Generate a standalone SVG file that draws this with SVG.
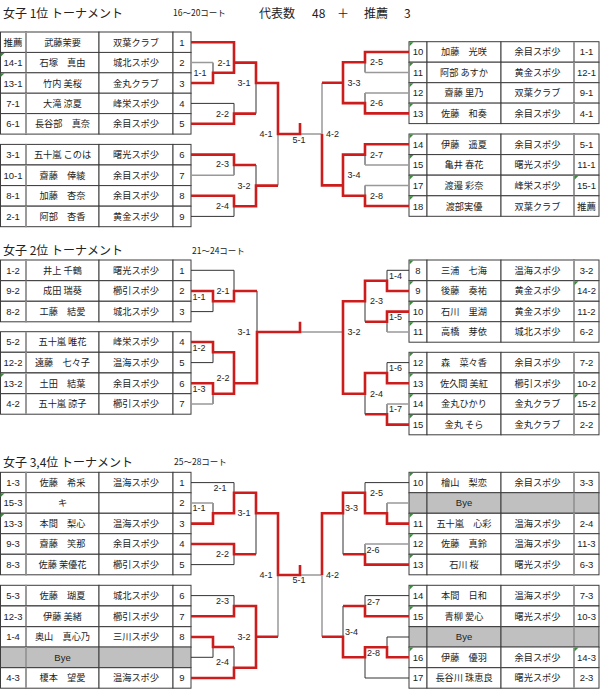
<svg xmlns="http://www.w3.org/2000/svg" xmlns:xlink="http://www.w3.org/1999/xlink" width="600" height="700" viewBox="0 0 600 700">
<style>
.cell{fill:#fff;stroke:#3c3c3c;stroke-width:1}
.bye{fill:#c0c0c0;stroke:#3c3c3c;stroke-width:1}
.sep{stroke:#9a9a9a;stroke-width:2}
text{font-family:"Noto Sans CJK JP","Noto Sans",sans-serif;fill:#222}
.t{font-size:9.2px;text-anchor:middle}
.s{font-family:"Liberation Sans","Noto Sans CJK JP",sans-serif;font-size:9.5px;text-anchor:middle}
.lb{font-family:"Liberation Sans",sans-serif;font-size:9px;text-anchor:middle;dominant-baseline:central}
.ttl{font-size:12px}
.ct{font-size:8.5px}
.r{fill:none;stroke:#cc1c1c;stroke-width:2.6;stroke-linejoin:miter}
.k{fill:none;stroke:#333;stroke-width:1}
.g{fill:none;stroke:#999;stroke-width:1.5}
.tri{fill:#3a8a3a}
</style>
<defs>
<g id="rL"><rect class="cell" x="0.5" y="0" width="25.5" height="20.5"/><rect class="cell" x="26" y="0" width="73" height="20.5"/><rect class="cell" x="99" y="0" width="74" height="20.5"/><rect class="cell" x="173" y="0" width="18" height="20.5"/><line class="sep" x1="26" y1="0" x2="26" y2="20.5"/></g>
<g id="rLb"><rect class="bye" x="0.5" y="0" width="25.5" height="20.5"/><rect class="bye" x="26" y="0" width="73" height="20.5"/><rect class="bye" x="99" y="0" width="74" height="20.5"/><rect class="bye" x="173" y="0" width="18" height="20.5"/><line class="sep" x1="26" y1="0" x2="26" y2="20.5"/></g>
<g id="rR"><rect class="cell" x="409" y="0" width="18" height="20.5"/><rect class="cell" x="427" y="0" width="74" height="20.5"/><rect class="cell" x="501" y="0" width="73" height="20.5"/><rect class="cell" x="574" y="0" width="25" height="20.5"/><line class="sep" x1="574" y1="0" x2="574" y2="20.5"/></g>
<g id="rRb"><rect class="bye" x="409" y="0" width="18" height="20.5"/><rect class="bye" x="427" y="0" width="74" height="20.5"/><rect class="bye" x="501" y="0" width="73" height="20.5"/><rect class="bye" x="574" y="0" width="25" height="20.5"/><line class="sep" x1="574" y1="0" x2="574" y2="20.5"/></g>
<path id="tri" class="tri" d="M0.5,0.5h4l-4,4z"/>
</defs>
<rect width="600" height="700" fill="#fff"/>

<g id="titles">
<text class="ttl" x="3" y="17.5">女子 1位 トーナメント</text>
<text class="ct" x="173" y="15.7">16～20コート</text>
<text class="ttl" y="17.5"><tspan x="259">代表数</tspan><tspan x="312">48</tspan><tspan x="337">＋</tspan><tspan x="364">推薦</tspan><tspan x="404">3</tspan></text>
<text class="ttl" x="3" y="255">女子 2位 トーナメント</text>
<text class="ct" x="192" y="253.5">21～24コート</text>
<text class="ttl" x="3" y="466.5">女子 3,4位 トーナメント</text>
<text class="ct" x="174" y="465">25～28コート</text>
</g>

<!-- Section 1 left -->
<g id="s1-l1" transform="translate(0,32)"><use href="#rL"/><text class="s" x="13" y="13.8">推薦</text><text class="t" x="62.5" y="13.8">武藤茉要</text><text class="t" x="136" y="13.8">双葉クラブ</text><text class="s" x="182" y="13.8">1</text></g>
<g id="s1-l2" transform="translate(0,52.4)"><use href="#rL"/><text class="s" x="13" y="13.8">14-1</text><text class="t" x="62.5" y="13.8">石塚　真由</text><text class="t" x="136" y="13.8">城北スポ少</text><text class="s" x="182" y="13.8">2</text></g>
<g id="s1-l3" transform="translate(0,72.8)"><use href="#rL"/><text class="s" x="13" y="13.8">13-1</text><text class="t" x="62.5" y="13.8">竹内 美桜</text><text class="t" x="136" y="13.8">金丸クラブ</text><text class="s" x="182" y="13.8">3</text></g>
<g id="s1-l4" transform="translate(0,93.2)"><use href="#rL"/><text class="s" x="13" y="13.8">7-1</text><text class="t" x="62.5" y="13.8">大滝 涼夏</text><text class="t" x="136" y="13.8">峰栄スポ少</text><text class="s" x="182" y="13.8">4</text></g>
<g id="s1-l5" transform="translate(0,113.6)"><use href="#rL"/><text class="s" x="13" y="13.8">6-1</text><text class="t" x="62.5" y="13.8">長谷部　真奈</text><text class="t" x="136" y="13.8">余目スポ少</text><text class="s" x="182" y="13.8">5</text></g>
<g id="s1-l6" transform="translate(0,144.4)"><use href="#rL"/><text class="s" x="13" y="13.8">3-1</text><text class="t" x="62.5" y="13.8">五十嵐 このは</text><text class="t" x="136" y="13.8">曙光スポ少</text><text class="s" x="182" y="13.8">6</text></g>
<g id="s1-l7" transform="translate(0,165)"><use href="#rL"/><text class="s" x="13" y="13.8">10-1</text><text class="t" x="62.5" y="13.8">齋藤　倖綾</text><text class="t" x="136" y="13.8">余目スポ少</text><text class="s" x="182" y="13.8">7</text></g>
<g id="s1-l8" transform="translate(0,185.6)"><use href="#rL"/><text class="s" x="13" y="13.8">8-1</text><text class="t" x="62.5" y="13.8">加藤　杏奈</text><text class="t" x="136" y="13.8">余目スポ少</text><text class="s" x="182" y="13.8">8</text></g>
<g id="s1-l9" transform="translate(0,206.2)"><use href="#rL"/><text class="s" x="13" y="13.8">2-1</text><text class="t" x="62.5" y="13.8">阿部　杏香</text><text class="t" x="136" y="13.8">黄金スポ少</text><text class="s" x="182" y="13.8">9</text></g>

<!-- Section 1 right -->
<g id="s1-r10" transform="translate(0,41.7)"><use href="#rR"/><text class="s" x="418" y="13.8">10</text><text class="t" x="464" y="13.8">加藤　光咲</text><text class="t" x="537.5" y="13.8">余目スポ少</text><text class="s" x="586.5" y="13.8">1-1</text></g>
<g id="s1-r11" transform="translate(0,62.2)"><use href="#rR"/><text class="s" x="418" y="13.8">11</text><text class="t" x="464" y="13.8">阿部 あすか</text><text class="t" x="537.5" y="13.8">黄金スポ少</text><text class="s" x="586.5" y="13.8">12-1</text></g>
<g id="s1-r12" transform="translate(0,82.7)"><use href="#rR"/><text class="s" x="418" y="13.8">12</text><text class="t" x="464" y="13.8">齋藤 里乃</text><text class="t" x="537.5" y="13.8">双葉クラブ</text><text class="s" x="586.5" y="13.8">9-1</text></g>
<g id="s1-r13" transform="translate(0,103.1)"><use href="#rR"/><text class="s" x="418" y="13.8">13</text><text class="t" x="464" y="13.8">佐藤　和奏</text><text class="t" x="537.5" y="13.8">余目スポ少</text><text class="s" x="586.5" y="13.8">4-1</text></g>
<g id="s1-r14" transform="translate(0,134)"><use href="#rR"/><text class="s" x="418" y="13.8">14</text><text class="t" x="464" y="13.8">伊藤　遥夏</text><text class="t" x="537.5" y="13.8">余目スポ少</text><text class="s" x="586.5" y="13.8">5-1</text></g>
<g id="s1-r15" transform="translate(0,154.6)"><use href="#rR"/><text class="s" x="418" y="13.8">15</text><text class="t" x="464" y="13.8">亀井 春花</text><text class="t" x="537.5" y="13.8">曙光スポ少</text><text class="s" x="586.5" y="13.8">11-1</text></g>
<g id="s1-r17" transform="translate(0,175.2)"><use href="#rR"/><text class="s" x="418" y="13.8">17</text><text class="t" x="464" y="13.8">渡邉 彩奈</text><text class="t" x="537.5" y="13.8">峰栄スポ少</text><text class="s" x="586.5" y="13.8">15-1</text></g>
<g id="s1-r18" transform="translate(0,195.8)"><use href="#rR"/><text class="s" x="418" y="13.8">18</text><text class="t" x="464" y="13.8">渡部実優</text><text class="t" x="537.5" y="13.8">双葉クラブ</text><text class="s" x="586.5" y="13.8">推薦</text></g>

<!-- Section 2 left -->
<g id="s2-l1" transform="translate(0,260)"><use href="#rL"/><text class="s" x="13" y="13.8">1-2</text><text class="t" x="62.5" y="13.8">井上 千鶴</text><text class="t" x="136" y="13.8">曙光スポ少</text><text class="s" x="182" y="13.8">1</text></g>
<g id="s2-l2" transform="translate(0,280.7)"><use href="#rL"/><text class="s" x="13" y="13.8">9-2</text><text class="t" x="62.5" y="13.8">成田 瑞葵</text><text class="t" x="136" y="13.8">櫛引スポ少</text><text class="s" x="182" y="13.8">2</text></g>
<g id="s2-l3" transform="translate(0,301.3)"><use href="#rL"/><text class="s" x="13" y="13.8">8-2</text><text class="t" x="62.5" y="13.8">工藤　結愛</text><text class="t" x="136" y="13.8">城北スポ少</text><text class="s" x="182" y="13.8">3</text></g>
<g id="s2-l4" transform="translate(0,331.7)"><use href="#rL"/><text class="s" x="13" y="13.8">5-2</text><text class="t" x="62.5" y="13.8">五十嵐 唯花</text><text class="t" x="136" y="13.8">峰栄スポ少</text><text class="s" x="182" y="13.8">4</text></g>
<g id="s2-l5" transform="translate(0,352.3)"><use href="#rL"/><text class="s" x="13" y="13.8">12-2</text><text class="t" x="62.5" y="13.8">遠藤　七々子</text><text class="t" x="136" y="13.8">温海スポ少</text><text class="s" x="182" y="13.8">5</text></g>
<g id="s2-l6" transform="translate(0,373)"><use href="#rL"/><text class="s" x="13" y="13.8">13-2</text><text class="t" x="62.5" y="13.8">土田　結葉</text><text class="t" x="136" y="13.8">余目スポ少</text><text class="s" x="182" y="13.8">6</text></g>
<g id="s2-l7" transform="translate(0,393.7)"><use href="#rL"/><text class="s" x="13" y="13.8">4-2</text><text class="t" x="62.5" y="13.8">五十嵐 諒子</text><text class="t" x="136" y="13.8">櫛引スポ少</text><text class="s" x="182" y="13.8">7</text></g>

<!-- Section 2 right -->
<g id="s2-r8" transform="translate(0,260)"><use href="#rR"/><text class="s" x="418" y="13.8">8</text><text class="t" x="464" y="13.8">三浦　七海</text><text class="t" x="537.5" y="13.8">温海スポ少</text><text class="s" x="586.5" y="13.8">3-2</text></g>
<g id="s2-r9" transform="translate(0,280.7)"><use href="#rR"/><text class="s" x="418" y="13.8">9</text><text class="t" x="464" y="13.8">後藤　奏祐</text><text class="t" x="537.5" y="13.8">黄金スポ少</text><text class="s" x="586.5" y="13.8">14-2</text></g>
<g id="s2-r10" transform="translate(0,301.3)"><use href="#rR"/><text class="s" x="418" y="13.8">10</text><text class="t" x="464" y="13.8">石川　里湖</text><text class="t" x="537.5" y="13.8">黄金スポ少</text><text class="s" x="586.5" y="13.8">11-2</text></g>
<g id="s2-r11" transform="translate(0,321.7)"><use href="#rR"/><text class="s" x="418" y="13.8">11</text><text class="t" x="464" y="13.8">高橋　芽依</text><text class="t" x="537.5" y="13.8">城北スポ少</text><text class="s" x="586.5" y="13.8">6-2</text></g>
<g id="s2-r12" transform="translate(0,352.3)"><use href="#rR"/><text class="s" x="418" y="13.8">12</text><text class="t" x="464" y="13.8">森　菜々香</text><text class="t" x="537.5" y="13.8">余目スポ少</text><text class="s" x="586.5" y="13.8">7-2</text></g>
<g id="s2-r13" transform="translate(0,373)"><use href="#rR"/><text class="s" x="418" y="13.8">13</text><text class="t" x="464" y="13.8">佐久間 美紅</text><text class="t" x="537.5" y="13.8">櫛引スポ少</text><text class="s" x="586.5" y="13.8">10-2</text></g>
<g id="s2-r14" transform="translate(0,393.7)"><use href="#rR"/><text class="s" x="418" y="13.8">14</text><text class="t" x="464" y="13.8">金丸ひかり</text><text class="t" x="537.5" y="13.8">金丸クラブ</text><text class="s" x="586.5" y="13.8">15-2</text></g>
<g id="s2-r15" transform="translate(0,414.3)"><use href="#rR"/><text class="s" x="418" y="13.8">15</text><text class="t" x="464" y="13.8">金丸 そら</text><text class="t" x="537.5" y="13.8">金丸クラブ</text><text class="s" x="586.5" y="13.8">2-2</text></g>

<!-- Section 3 left -->
<g id="s3-l1" transform="translate(0,472.3)"><use href="#rL"/><text class="s" x="13" y="13.8">1-3</text><text class="t" x="62.5" y="13.8">佐藤　希采</text><text class="t" x="136" y="13.8">温海スポ少</text><text class="s" x="182" y="13.8">1</text></g>
<g id="s3-l2" transform="translate(0,492.7)"><use href="#rL"/><text class="s" x="13" y="13.8">15-3</text><text class="t" x="62.5" y="13.8">キ</text><text class="s" x="182" y="13.8">2</text></g>
<g id="s3-l3" transform="translate(0,513.3)"><use href="#rL"/><text class="s" x="13" y="13.8">13-3</text><text class="t" x="62.5" y="13.8">本間　梨心</text><text class="t" x="136" y="13.8">温海スポ少</text><text class="s" x="182" y="13.8">3</text></g>
<g id="s3-l4" transform="translate(0,533.7)"><use href="#rL"/><text class="s" x="13" y="13.8">9-3</text><text class="t" x="62.5" y="13.8">齋藤　笑那</text><text class="t" x="136" y="13.8">余目スポ少</text><text class="s" x="182" y="13.8">4</text></g>
<g id="s3-l5" transform="translate(0,554.3)"><use href="#rL"/><text class="s" x="13" y="13.8">8-3</text><text class="t" x="62.5" y="13.8">佐藤 茉優花</text><text class="t" x="136" y="13.8">櫛引スポ少</text><text class="s" x="182" y="13.8">5</text></g>
<g id="s3-l6" transform="translate(0,585.3)"><use href="#rL"/><text class="s" x="13" y="13.8">5-3</text><text class="t" x="62.5" y="13.8">佐藤　瑚夏</text><text class="t" x="136" y="13.8">城北スポ少</text><text class="s" x="182" y="13.8">6</text></g>
<g id="s3-l7" transform="translate(0,606)"><use href="#rL"/><text class="s" x="13" y="13.8">12-3</text><text class="t" x="62.5" y="13.8">伊藤 美緒</text><text class="t" x="136" y="13.8">櫛引スポ少</text><text class="s" x="182" y="13.8">7</text></g>
<g id="s3-l8" transform="translate(0,626.7)"><use href="#rL"/><text class="s" x="13" y="13.8">1-4</text><text class="t" x="62.5" y="13.8">奥山　真心乃</text><text class="t" x="136" y="13.8">三川スポ少</text><text class="s" x="182" y="13.8">8</text></g>
<g id="s3-lbye" transform="translate(0,647)"><use href="#rLb"/><text class="s" x="62.5" y="13.8">Bye</text></g>
<g id="s3-l9" transform="translate(0,667.7)"><use href="#rL"/><text class="s" x="13" y="13.8">4-3</text><text class="t" x="62.5" y="13.8">榎本　望愛</text><text class="t" x="136" y="13.8">温海スポ少</text><text class="s" x="182" y="13.8">9</text></g>

<!-- Section 3 right -->
<g id="s3-r10" transform="translate(0,472.3)"><use href="#rR"/><text class="s" x="418" y="13.8">10</text><text class="t" x="464" y="13.8">檜山　梨恋</text><text class="t" x="537.5" y="13.8">余目スポ少</text><text class="s" x="586.5" y="13.8">3-3</text></g>
<g id="s3-rbye1" transform="translate(0,492.7)"><use href="#rRb"/><text class="s" x="464" y="13.8">Bye</text></g>
<g id="s3-r11" transform="translate(0,513.3)"><use href="#rR"/><text class="s" x="418" y="13.8">11</text><text class="t" x="464" y="13.8">五十嵐　心彩</text><text class="t" x="537.5" y="13.8">温海スポ少</text><text class="s" x="586.5" y="13.8">2-4</text></g>
<g id="s3-r12" transform="translate(0,533.7)"><use href="#rR"/><text class="s" x="418" y="13.8">12</text><text class="t" x="464" y="13.8">佐藤　真鈴</text><text class="t" x="537.5" y="13.8">温海スポ少</text><text class="s" x="586.5" y="13.8">11-3</text></g>
<g id="s3-r13" transform="translate(0,554.3)"><use href="#rR"/><text class="s" x="418" y="13.8">13</text><text class="t" x="464" y="13.8">石川 桜</text><text class="t" x="537.5" y="13.8">曙光スポ少</text><text class="s" x="586.5" y="13.8">6-3</text></g>
<g id="s3-r14" transform="translate(0,585.3)"><use href="#rR"/><text class="s" x="418" y="13.8">14</text><text class="t" x="464" y="13.8">本間　日和</text><text class="t" x="537.5" y="13.8">温海スポ少</text><text class="s" x="586.5" y="13.8">7-3</text></g>
<g id="s3-r15" transform="translate(0,606)"><use href="#rR"/><text class="s" x="418" y="13.8">15</text><text class="t" x="464" y="13.8">青柳 愛心</text><text class="t" x="537.5" y="13.8">曙光スポ少</text><text class="s" x="586.5" y="13.8">10-3</text></g>
<g id="s3-rbye2" transform="translate(0,626.7)"><use href="#rRb"/><text class="s" x="464" y="13.8">Bye</text></g>
<g id="s3-r16" transform="translate(0,647)"><use href="#rR"/><text class="s" x="418" y="13.8">16</text><text class="t" x="464" y="13.8">伊藤　優羽</text><text class="t" x="537.5" y="13.8">余目スポ少</text><text class="s" x="586.5" y="13.8">14-3</text></g>
<g id="s3-r17" transform="translate(0,667.7)"><use href="#rR"/><text class="s" x="418" y="13.8">17</text><text class="t" x="464" y="13.8">長谷川 珠恵良</text><text class="t" x="537.5" y="13.8">曙光スポ少</text><text class="s" x="586.5" y="13.8">2-3</text></g>

<g id="comment-marks">
<use href="#tri" x="0" y="52.4"/><use href="#tri" x="0" y="72.8"/>
<use href="#tri" x="409" y="41.7"/><use href="#tri" x="409" y="62.2"/><use href="#tri" x="409" y="82.7"/><use href="#tri" x="409" y="103.1"/><use href="#tri" x="409" y="134"/><use href="#tri" x="409" y="154.6"/><use href="#tri" x="409" y="175.2"/><use href="#tri" x="409" y="195.8"/><use href="#tri" x="574" y="175.2"/>
<use href="#tri" x="0" y="373"/>
<use href="#tri" x="409" y="260"/><use href="#tri" x="409" y="280.7"/><use href="#tri" x="409" y="301.3"/><use href="#tri" x="409" y="321.7"/><use href="#tri" x="409" y="352.3"/><use href="#tri" x="409" y="373"/><use href="#tri" x="409" y="393.7"/><use href="#tri" x="409" y="414.3"/><use href="#tri" x="574" y="280.7"/><use href="#tri" x="574" y="393.7"/>
<use href="#tri" x="0" y="492.7"/><use href="#tri" x="0" y="513.3"/>
<use href="#tri" x="409" y="472.3"/><use href="#tri" x="409" y="513.3"/><use href="#tri" x="409" y="533.7"/><use href="#tri" x="409" y="554.3"/><use href="#tri" x="409" y="585.3"/><use href="#tri" x="409" y="606"/><use href="#tri" x="409" y="647"/><use href="#tri" x="574" y="647"/>
</g>

<g id="connectors">
<!-- section 1 -->
<path class="k" d="M213,62.6V72.8M234,103.4V113.6M256,83V113.6M191,103.4H234M234,165V175.2M256,165V185.6M234,206.2V216.4M191,216.4H234"/>
<path class="g" d="M191,62.6H213M191,175.2H234M278,134V185.6M300,134H322"/>
<path class="k" d="M365,62.2V72.5M365,93V103.1M365,154.6V164.9M365,185.4V195.8"/>
<path class="g" d="M365,72.5H409M365,93H409M365,164.9H409M365,185.4H409M322,82.7V134"/>
<path class="r" d="M191,42.2H234V72.8H213V83H191M234,62.6H256V83H278V134H300V123M191,123.8H234V113.6H256M191,154.6H234V165H256M191,195.8H234V206.2H256V185.6H278"/>
<path class="r" d="M409,52H365V62.2H343V103.1H365V113.4H409M343,82.7H322M322,134V185.4H343V154.6H365V144.3H409M343,185.4V195.8H365V206H409"/>
<!-- section 2 -->
<path class="k" d="M191,270.3H234V291M213,301.3V311.6H191M213,352.3V362.6H191M213,393.7V404M257,291V332"/>
<path class="g" d="M191,404H213M300,332H343"/>
<path class="k" d="M409,270.3H387V280.7M387,321.7V332M365,301.3V321.7M409,362.6H387V373M387,404V414.3M365,393.7V414.3"/>
<path class="g" d="M387,332H409M387,404H409"/>
<path class="r" d="M191,291H213V301.3H234V291H257M191,342H213V352.3H234V393.7H213V383.3H191M234,383.3H257V332H300V321.7"/>
<path class="r" d="M409,291H387V280.7H365V301.3H343V393.7H365V373H387V383.3H409M409,311.6H387V321.7H365M409,424.6H387V414.3H365"/>
<!-- section 3 -->
<path class="k" d="M191,482.6H234V492.7M213,503V513.3M256,513.3V554.3M234,554.3V564.6H191M191,595.6H234V606M213,647V657.3H191M234,647V667.7"/>
<path class="g" d="M191,503H213M278,575V636.7M300,575H322"/>
<path class="k" d="M409,482.6H365V492.7M387,503V513.3M343,513.3V554.3M365,544V554.3M409,595.6H365V606M343,606V636.7M409,637H387V647.3M365,657.3V678H409"/>
<path class="g" d="M387,503H409M365,544H409M322,575V636.7"/>
<path class="r" d="M191,523.6H213V513.3H234V492.7H256V513.3H278V575H300V565M191,544H234V554.3H256M191,616.3H234V606H256V667.7H234V678H191M256,636.7H278M191,637H213V647H234"/>
<path class="r" d="M409,523.6H387V513.3H365V492.7H343V513.3H322V575M409,564.6H365V554.3H343M409,616.3H365V606H343M322,636.7H343V657.3H365V647.3H387V657.3H409"/>
</g>

<g id="match-labels">
<text class="lb" x="200" y="72.8">1-1</text><text class="lb" x="224" y="62.6">2-1</text><text class="lb" x="244" y="83">3-1</text><text class="lb" x="222.5" y="113.6">2-2</text><text class="lb" x="266" y="134">4-1</text><text class="lb" x="222.5" y="164">2-3</text><text class="lb" x="244" y="185.6">3-2</text><text class="lb" x="222.5" y="206.2">2-4</text>
<text class="lb" x="376.5" y="62.2">2-5</text><text class="lb" x="376.5" y="103.1">2-6</text><text class="lb" x="354" y="82.7">3-3</text><text class="lb" x="332.5" y="134">4-2</text><text class="lb" x="376.5" y="154.6">2-7</text><text class="lb" x="354" y="175">3-4</text><text class="lb" x="376.5" y="195.8">2-8</text><text class="lb" x="299" y="139.5">5-1</text>
<text class="lb" x="199" y="297">1-1</text><text class="lb" x="223" y="291">2-1</text><text class="lb" x="199" y="347.5">1-2</text><text class="lb" x="199" y="389">1-3</text><text class="lb" x="223" y="378">2-2</text><text class="lb" x="244" y="332">3-1</text>
<text class="lb" x="395.5" y="276">1-4</text><text class="lb" x="376.5" y="301">2-3</text><text class="lb" x="395.5" y="317">1-5</text><text class="lb" x="354" y="332">3-2</text><text class="lb" x="395.5" y="368">1-6</text><text class="lb" x="376.5" y="394">2-4</text><text class="lb" x="395.5" y="409">1-7</text>
<text class="lb" x="220" y="487.7">2-1</text><text class="lb" x="199" y="508">1-1</text><text class="lb" x="244" y="513.3">3-1</text><text class="lb" x="222.5" y="554.3">2-2</text><text class="lb" x="266" y="575">4-1</text><text class="lb" x="222.5" y="601">2-3</text><text class="lb" x="244" y="636.7">3-2</text><text class="lb" x="222.5" y="662">2-4</text>
<text class="lb" x="376.5" y="492.7">2-5</text><text class="lb" x="351.5" y="508">3-3</text><text class="lb" x="373" y="550">2-6</text><text class="lb" x="332.5" y="575">4-2</text><text class="lb" x="373.5" y="601.7">2-7</text><text class="lb" x="351.5" y="631.7">3-4</text><text class="lb" x="373.5" y="653">2-8</text><text class="lb" x="299" y="580">5-1</text>
</g>
</svg>
